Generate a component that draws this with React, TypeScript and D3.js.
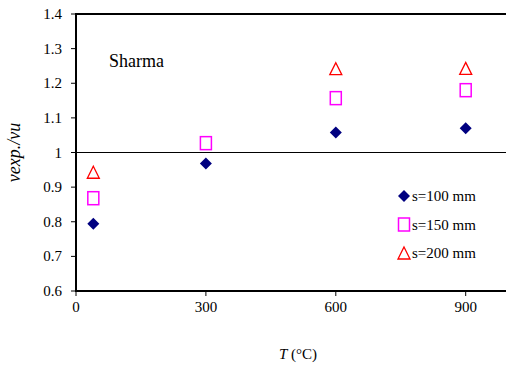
import React from "react";
import * as d3 from "d3";

const temps100 = [40, 300, 600, 900];
const vals100 = [0.794, 0.968, 1.058, 1.07];
const temps150 = [40, 300, 600, 900];
const vals150 = [0.868, 1.027, 1.157, 1.18];
const temps200 = [40, 600, 900];
const vals200 = [0.943, 1.242, 1.243];
const xTicks = [0, 300, 600, 900];
const yTicks = [0.6, 0.7, 0.8, 0.9, 1, 1.1, 1.2, 1.3, 1.4];
const legendLabels = ["s=100 mm", "s=150 mm", "s=200 mm"];

const W = 506;
const H = 367;
const font = "'Liberation Serif'";

const x = d3.scaleLinear().domain([0, 1000]).range([76, 509]);
const y = d3.scaleLinear().domain([0.6, 1.4]).range([291, 14]);

const diamond = (cx: number, cy: number, r = 6) =>
  `M${cx},${cy - r}L${cx + r},${cy}L${cx},${cy + r}L${cx - r},${cy}Z`;
const triangle = (cx: number, cy: number, r = 6) =>
  `M${cx},${cy - r}L${cx + r},${cy + r}L${cx - r},${cy + r}Z`;

const Marker = ({ kind, cx, cy }: { kind: number; cx: number; cy: number }) => {
  if (kind === 0) return <path d={diamond(cx, cy)} fill="#000080" />;
  if (kind === 1)
    return (
      <rect x={cx - 5.5} y={cy - 6.5} width={11} height={13} fill="none" stroke="#ff00ff" strokeWidth={1.5} />
    );
  return <path d={triangle(cx, cy)} fill="none" stroke="#ff0000" strokeWidth={1.3} />;
};

// text is always laid out at 18px (which renders in the serif face reliably)
// and scaled down to the wanted size
const Label = ({
  x: tx,
  y: ty,
  size,
  anchor = "start",
  rotate = 0,
  italic = false,
  children,
}: {
  x: number;
  y: number;
  size: number;
  anchor?: string;
  rotate?: number;
  italic?: boolean;
  children: React.ReactNode;
}) => (
  <g transform={`translate(${tx},${ty}) rotate(${rotate}) scale(${size / 18})`}>
    <text
      x={0}
      y={0}
      textAnchor={anchor}
      fontStyle={italic ? "italic" : "normal"}
      style={{ fontFamily: font, fontSize: 18 }}
    >
      {children}
    </text>
  </g>
);

export default function App() {
  const series = [
    { t: temps100, v: vals100 },
    { t: temps150, v: vals150 },
    { t: temps200, v: vals200 },
  ];
  return (
    <svg width={W} height={H} style={{ position: "absolute", left: 0, top: 0, background: "#fff" }}>
      {/* reference line at 1 */}
      <line x1={x(0)} x2={W} y1={y(1)} y2={y(1)} stroke="#000" strokeWidth={1} />
      {/* frame */}
      <line x1={x(0)} x2={W} y1={y(1.4)} y2={y(1.4)} stroke="#000" strokeWidth={2} />
      <line x1={x(0)} x2={W} y1={y(0.6)} y2={y(0.6)} stroke="#000" strokeWidth={2} />
      <line x1={x(0)} x2={x(0)} y1={y(1.4) - 1} y2={y(0.6) + 1} stroke="#000" strokeWidth={2} />

      {yTicks.map((t) => (
        <g key={t}>
          <line x1={x(0) - 5} x2={x(0)} y1={y(t)} y2={y(t)} stroke="#000" strokeWidth={1} />
          <Label x={62} y={y(t) + 5} size={15} anchor="end">
            {d3.format("~g")(t)}
          </Label>
        </g>
      ))}
      {xTicks.map((t) => (
        <g key={t}>
          <line x1={x(t)} x2={x(t)} y1={y(0.6)} y2={y(0.6) + 5} stroke="#000" strokeWidth={1} />
          <Label x={x(t)} y={312} size={15} anchor="middle">
            {t}
          </Label>
        </g>
      ))}

      <Label x={20} y={y(1)} size={18} anchor="middle" rotate={-90} italic>
        vexp./vu
      </Label>
      <Label x={298} y={359} size={15} anchor="middle">
        <tspan fontStyle="italic">T</tspan> (°C)
      </Label>
      <Label x={109} y={67} size={18}>
        Sharma
      </Label>

      {series.map((s, k) =>
        s.t.map((t, i) => <Marker key={`${k}-${i}`} kind={k} cx={x(t)} cy={y(s.v[i])} />)
      )}

      {legendLabels.map((l, k) => {
        const ly = 196 + k * 28.5;
        return (
          <g key={l}>
            <Marker kind={k} cx={404} cy={ly} />
            <Label x={412} y={ly + 5} size={15}>
              {l}
            </Label>
          </g>
        );
      })}
    </svg>
  );
}
